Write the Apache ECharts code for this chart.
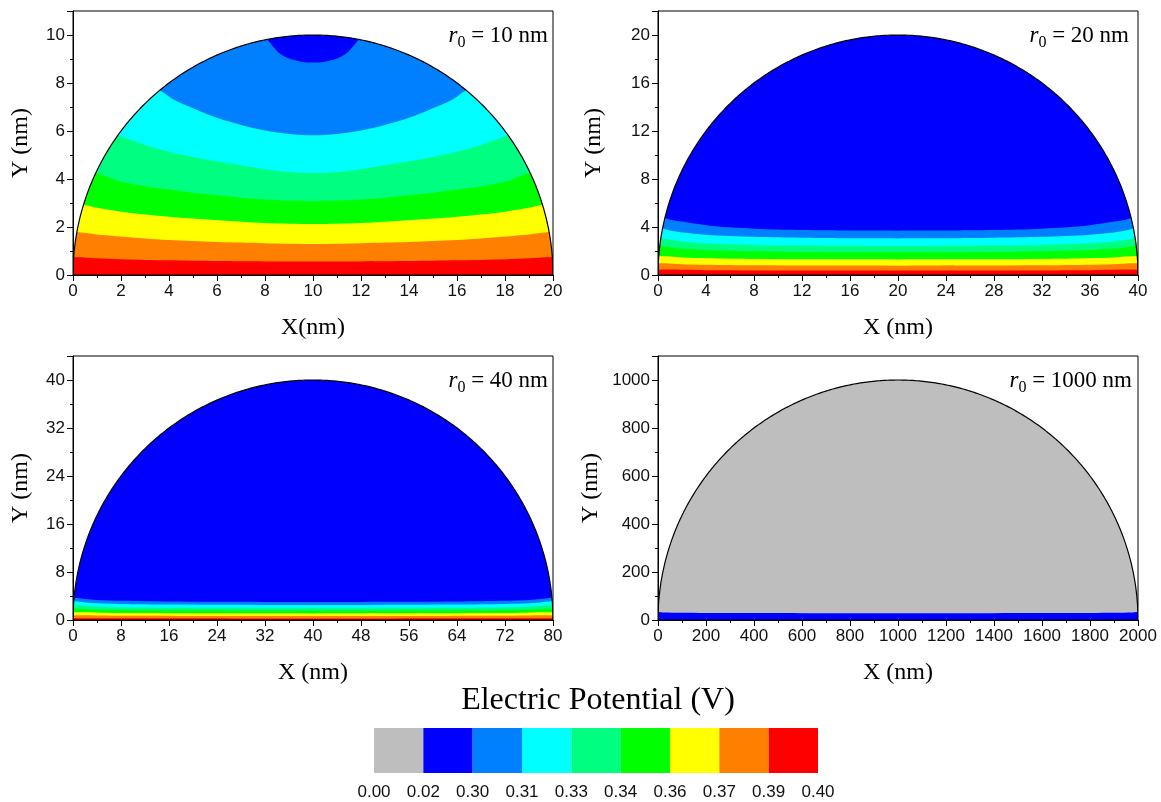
<!DOCTYPE html>
<html>
<head>
<meta charset="utf-8">
<title>Electric Potential</title>
<script src="https://cdn.jsdelivr.net/npm/echarts@6/dist/echarts.min.js"></script>
<style>
  html, body { margin: 0; padding: 0; background: #fff; }
  #chart { width: 1161px; height: 802px; }
</style>
</head>
<body>
<div id="chart"></div>
<script>
// Potential levels (V) bounding each colour band, and the band colours.
const levels = [0.00, 0.02, 0.30, 0.31, 0.33, 0.34, 0.36, 0.37, 0.39, 0.40];
const levelLabels = ['0.00', '0.02', '0.30', '0.31', '0.33', '0.34', '0.36', '0.37', '0.39', '0.40'];
const bandColors = ['#BEBEBE', '#0000FF', '#0080FF', '#00FFFF', '#00FF80', '#00FF00', '#FFFF00', '#FF8000', '#FF0000'];

// Particle radius r0 (nm) for each panel, axis ranges and tick steps.
const radii = [10, 20, 40, 1000];
const yMaxes = [11, 22, 44, 1100];
const tickSteps = [2, 4, 8, 200];
const xNames = ['X(nm)', 'X (nm)', 'X (nm)', 'X (nm)'];
const yNameGaps = [40, 52, 40, 55];
// Band that fills the cap of each semicircle (level at its lower bound).
const topLevels = [0.02, 0.02, 0.02, 0.00];

// Iso-potential lines: [level, [[x, y], ...]] in nm, running left to right.
const contoursR10 = [
  [0.30, [[8.1, 9.79], [8.35, 9.5], [8.6, 9.24], [9.0, 9.02], [9.5, 8.89], [10, 8.85], [10.5, 8.89], [11.0, 9.02], [11.4, 9.24], [11.65, 9.5], [11.9, 9.79]]],
  [0.31, [[3.65, 7.68], [4.2, 7.3], [5, 6.95], [6, 6.55], [7, 6.25], [8, 6.02], [9, 5.88], [10, 5.82], [11, 5.88], [12, 6.02], [13, 6.25], [14, 6.55], [15, 6.95], [15.8, 7.3], [16.35, 7.68]]],
  [0.33, [[1.9, 5.8], [3, 5.42], [4, 5.14], [5, 4.92], [6, 4.74], [7, 4.57], [8, 4.41], [9, 4.29], [10, 4.25], [11, 4.29], [12, 4.41], [13, 4.57], [14, 4.74], [15, 4.92], [16, 5.14], [17, 5.42], [18.1, 5.8]]],
  [0.34, [[0.97, 4.25], [2, 3.89], [3, 3.7], [4, 3.56], [5, 3.43], [6, 3.32], [7, 3.22], [8, 3.15], [9, 3.1], [10, 3.08], [11, 3.1], [12, 3.15], [13, 3.22], [14, 3.32], [15, 3.43], [16, 3.56], [17, 3.7], [18, 3.89], [19.03, 4.25]]],
  [0.36, [[0.44, 2.93], [1, 2.8], [2, 2.64], [3, 2.52], [4, 2.43], [5, 2.35], [6, 2.28], [7, 2.22], [8, 2.17], [9, 2.14], [10, 2.13], [11, 2.14], [12, 2.17], [13, 2.22], [14, 2.28], [15, 2.35], [16, 2.43], [17, 2.52], [18, 2.64], [19, 2.8], [19.56, 2.93]]],
  [0.37, [[0.16, 1.78], [1, 1.69], [2, 1.6], [3, 1.52], [4, 1.46], [5, 1.42], [6, 1.38], [7, 1.35], [8, 1.32], [9, 1.3], [10, 1.29], [11, 1.3], [12, 1.32], [13, 1.35], [14, 1.38], [15, 1.42], [16, 1.46], [17, 1.52], [18, 1.6], [19, 1.69], [19.84, 1.78]]],
  [0.39, [[0.03, 0.74], [1, 0.7], [2, 0.66], [4, 0.61], [6, 0.58], [8, 0.565], [10, 0.56], [12, 0.565], [14, 0.58], [16, 0.61], [18, 0.66], [19, 0.7], [19.97, 0.74]]]
];

const contoursR20 = [
  [0.30, [[0.57, 4.72], [1, 4.6], [2, 4.45], [4, 4.15], [6, 3.97], [8, 3.86], [10, 3.79], [12, 3.74], [16, 3.7], [20, 3.69], [24, 3.7], [28, 3.74], [30, 3.79], [32, 3.86], [34, 3.97], [36, 4.15], [38, 4.45], [39, 4.6], [39.43, 4.72]]],
  [0.31, [[0.37, 3.85], [1, 3.7], [2, 3.55], [4, 3.36], [6, 3.25], [8, 3.18], [12, 3.1], [16, 3.06], [20, 3.05], [24, 3.06], [28, 3.1], [32, 3.18], [34, 3.25], [36, 3.36], [38, 3.55], [39, 3.7], [39.63, 3.85]]],
  [0.33, [[0.23, 3.05], [1, 2.93], [2, 2.8], [4, 2.65], [8, 2.51], [12, 2.45], [20, 2.41], [28, 2.45], [32, 2.51], [36, 2.65], [38, 2.8], [39, 2.93], [39.77, 3.05]]],
  [0.34, [[0.15, 2.42], [1, 2.3], [2, 2.2], [4, 2.08], [8, 1.97], [12, 1.92], [20, 1.89], [28, 1.92], [32, 1.97], [36, 2.08], [38, 2.2], [39, 2.3], [39.85, 2.42]]],
  [0.36, [[0.06, 1.58], [2, 1.46], [4, 1.4], [8, 1.34], [12, 1.31], [20, 1.3], [28, 1.31], [32, 1.34], [36, 1.4], [38, 1.46], [39.94, 1.58]]],
  [0.37, [[0.02, 0.97], [2, 0.9], [4, 0.86], [8, 0.81], [20, 0.78], [32, 0.81], [36, 0.86], [38, 0.9], [39.98, 0.97]]],
  [0.39, [[0.005, 0.44], [4, 0.4], [10, 0.38], [20, 0.37], [30, 0.38], [36, 0.4], [39.995, 0.44]]]
];

const contoursR40 = [
  [0.30, [[0.17, 3.7], [2, 3.48], [4, 3.35], [8, 3.2], [16, 3.08], [24, 3.03], [40, 3.0], [56, 3.03], [64, 3.08], [72, 3.2], [76, 3.35], [78, 3.48], [79.83, 3.7]]],
  [0.31, [[0.12, 3.1], [2, 2.92], [4, 2.8], [8, 2.68], [16, 2.58], [40, 2.5], [64, 2.58], [72, 2.68], [76, 2.8], [78, 2.92], [79.88, 3.1]]],
  [0.33, [[0.075, 2.45], [4, 2.2], [8, 2.1], [16, 2.02], [40, 1.95], [64, 2.02], [72, 2.1], [76, 2.2], [79.925, 2.45]]],
  [0.34, [[0.043, 1.85], [4, 1.7], [8, 1.63], [16, 1.58], [40, 1.55], [64, 1.58], [72, 1.63], [76, 1.7], [79.957, 1.85]]],
  [0.36, [[0.02, 1.28], [8, 1.15], [40, 1.1], [72, 1.15], [79.98, 1.28]]],
  [0.37, [[0.007, 0.77], [8, 0.7], [40, 0.66], [72, 0.7], [79.993, 0.77]]],
  [0.39, [[0.001, 0.3], [40, 0.27], [79.999, 0.3]]]
];

const contoursR1000 = [
  [0.02, [[0.55, 33], [20, 31.5], [100, 30], [300, 29], [1000, 28], [1700, 29], [1900, 30], [1980, 31.5], [1999.45, 33]]]
];

const panelContours = [contoursR10, contoursR20, contoursR40, contoursR1000];

const SANS = '"Liberation Sans", Arial, sans-serif';
const SERIF = '"Liberation Serif", "Times New Roman", serif';

const gridRects = [
  { left: 73, top: 11 },
  { left: 658, top: 11 },
  { left: 73, top: 356 },
  { left: 658, top: 356 }
];

const chart = echarts.init(document.getElementById('chart'), null, { renderer: 'canvas' });

// Filled iso-potential bands inside the semicircle of radius r0.
function bandSeries(idx) {
  const r0 = radii[idx];
  const yMax = yMaxes[idx];
  const lines = panelContours[idx];
  const topColor = bandColors[levels.indexOf(topLevels[idx])];
  return {
    type: 'custom',
    xAxisIndex: idx,
    yAxisIndex: idx,
    z: 1,
    clip: true,
    silent: true,
    data: [[r0, 0]],
    renderItem: function (params, api) {
      // points along the boundary circle between two polar angles
      const arc = function (a0, a1) {
        const n = Math.max(2, Math.ceil(Math.abs(a1 - a0) / (Math.PI / 360)));
        const pts = [];
        for (let i = 0; i <= n; i++) {
          const a = a0 + (a1 - a0) * i / n;
          pts.push(api.coord([r0 + r0 * Math.cos(a), r0 * Math.sin(a)]));
        }
        return pts;
      };
      const children = [];
      children.push({
        type: 'polygon',
        shape: { points: arc(Math.PI, 0) },
        style: { fill: topColor }
      });
      lines.forEach(function (line) {
        const lvl = line[0];
        const pts = line[1];
        const first = pts[0];
        const last = pts[pts.length - 1];
        const aL = Math.atan2(first[1], first[0] - r0);
        const aR = Math.atan2(last[1], last[0] - r0);
        const poly = pts.map(function (p) { return api.coord(p); })
          .concat(arc(aR, 0).slice(1), arc(Math.PI, aL).slice(0, -1));
        children.push({
          type: 'polygon',
          shape: { points: poly, smooth: 0.3 },
          style: { fill: bandColors[levels.indexOf(lvl)] }
        });
      });
      // white outside the particle
      const mask = arc(Math.PI, 0).concat([api.coord([2 * r0, yMax]), api.coord([0, yMax])]);
      children.push({ type: 'polygon', shape: { points: mask }, style: { fill: '#fff' } });
      children.push({
        type: 'polyline',
        shape: { points: arc(Math.PI, 0) },
        style: { fill: null, stroke: '#000', lineWidth: 1.2 }
      });
      return { type: 'group', children: children };
    }
  };
}

const grids = gridRects.map(function (g) {
  return {
    left: g.left, top: g.top, width: 480, height: 264,
    show: true, borderColor: '#000', borderWidth: 1,
    backgroundColor: 'transparent', z: 3, containLabel: false
  };
});
grids.push({ left: 374, top: 728, width: 444, height: 45, show: false });

const tickCommon = {
  axisTick: { show: true, inside: false, length: 6, lineStyle: { color: '#000', width: 1 } },
  minorTick: { show: true, splitNumber: 2, length: 3, lineStyle: { color: '#000', width: 1 } },
  splitLine: { show: false },
  minorSplitLine: { show: false },
  axisLine: { show: true, onZero: false, lineStyle: { color: '#000', width: 1 } }
};

const xAxes = radii.map(function (r0, i) {
  return Object.assign({
    gridIndex: i, type: 'value', min: 0, max: 2 * r0, interval: tickSteps[i],
    name: xNames[i], nameLocation: 'middle', nameGap: 41,
    nameTextStyle: { fontFamily: SERIF, fontSize: 24, color: '#000' },
    axisLabel: {
      fontFamily: SANS, fontSize: 17, color: '#111', margin: 8,
      formatter: function (v) { return String(v); }
    },
    z: 4
  }, tickCommon);
});
xAxes.push({
  gridIndex: 4, type: 'value', min: 0, max: levels.length - 1, interval: 1,
  axisLine: { show: false }, axisTick: { show: false }, splitLine: { show: false },
  axisLabel: {
    fontFamily: SANS, fontSize: 17, color: '#111', margin: 11,
    formatter: function (v) { return levelLabels[v] !== undefined ? levelLabels[v] : ''; }
  }
});

const yAxes = radii.map(function (r0, i) {
  return Object.assign({
    gridIndex: i, type: 'value', min: 0, max: yMaxes[i], interval: tickSteps[i],
    name: 'Y (nm)', nameLocation: 'middle', nameGap: yNameGaps[i], nameRotate: 90,
    nameTextStyle: { fontFamily: SERIF, fontSize: 24, color: '#000' },
    axisLabel: {
      fontFamily: SANS, fontSize: 17, color: '#111', margin: 8,
      formatter: function (v) { return v % tickSteps[i] === 0 ? String(v) : ''; }
    },
    z: 4
  }, tickCommon);
});
yAxes.push({ gridIndex: 4, type: 'value', min: 0, max: 1, show: false });

// r0 annotation in the upper-right corner of each panel
const titleRights = [613, 32, 613, 29];
const titleTops = [23, 23, 368, 368];
const titles = radii.map(function (r0, i) {
  return {
    text: '{r|r}{s|0}{t| = ' + r0 + ' nm}',
    right: titleRights[i], top: titleTops[i], padding: 0,
    textStyle: {
      fontWeight: 'normal',
      rich: {
        r: { fontFamily: SERIF, fontSize: 23, fontStyle: 'italic', fontWeight: 'normal', color: '#000', lineHeight: 26 },
        s: { fontFamily: SERIF, fontSize: 16, fontWeight: 'normal', color: '#000', lineHeight: 26, padding: [13, 0, 0, 0] },
        t: { fontFamily: SERIF, fontSize: 23, fontWeight: 'normal', color: '#000', lineHeight: 26 }
      }
    }
  };
});

const series = radii.map(function (r0, i) { return bandSeries(i); });
// colour scale cells
series.push({
  type: 'custom',
  xAxisIndex: 4,
  yAxisIndex: 4,
  silent: true,
  data: bandColors.map(function (c, i) { return [i]; }),
  renderItem: function (params, api) {
    const i = api.value(0);
    const p0 = api.coord([i, 1]);
    const p1 = api.coord([i + 1, 0]);
    return {
      type: 'rect',
      shape: { x: p0[0], y: p0[1], width: p1[0] - p0[0], height: p1[1] - p0[1] },
      style: { fill: bandColors[i] }
    };
  }
});

chart.setOption({
  animation: false,
  backgroundColor: '#fff',
  title: titles,
  grid: grids,
  xAxis: xAxes,
  yAxis: yAxes,
  series: series,
  graphic: [{
    type: 'text',
    x: 598,
    y: 701,
    style: {
      text: 'Electric Potential (V)',
      font: '32px ' + SERIF,
      fill: '#000',
      align: 'center',
      verticalAlign: 'middle',
      textAlign: 'center',
      textVerticalAlign: 'middle'
    }
  }]
});
</script>
</body>
</html>
